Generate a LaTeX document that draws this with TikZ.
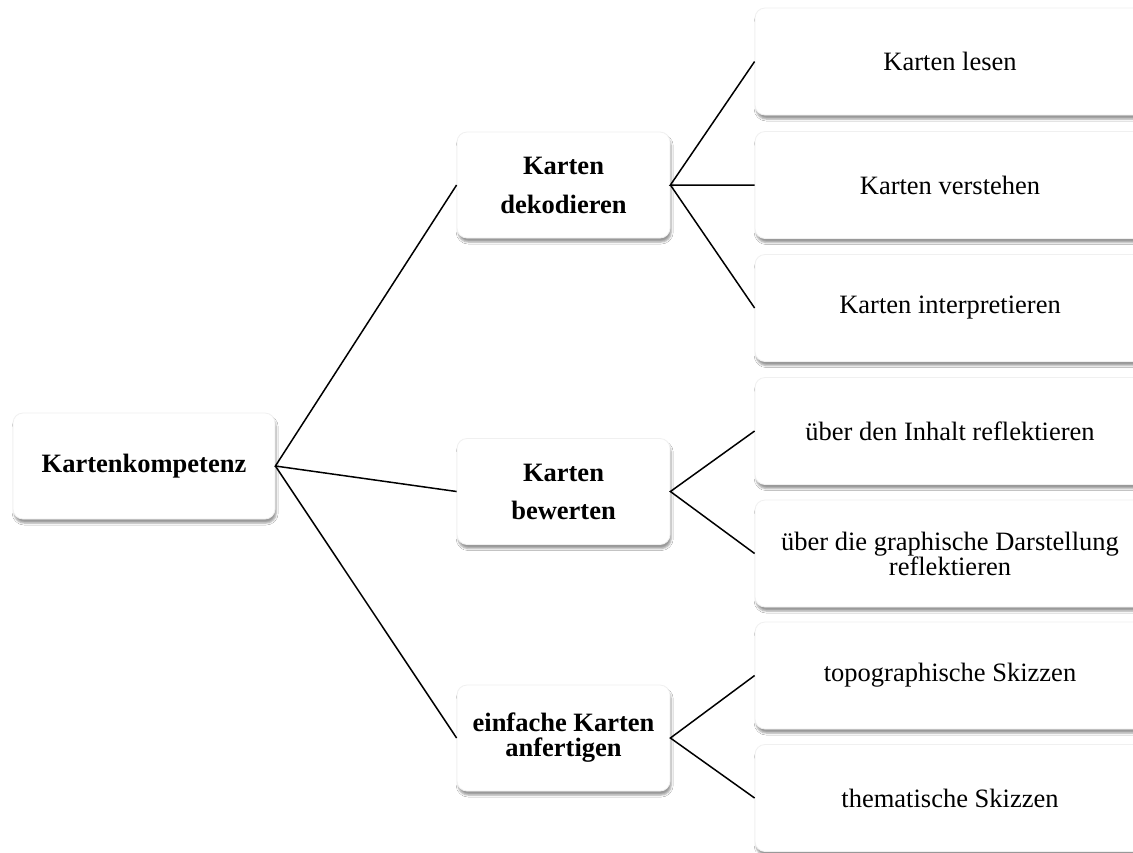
\documentclass[tikz,border=0pt]{standalone}
\usepackage{fontspec}
\setmainfont{Liberation Serif}
\usetikzlibrary{shadows,shadows.blur}

\begin{document}
\begin{tikzpicture}[x=0.5pt,y=-0.5pt]
    \tikzstyle{BoxStyle}=[shape = rectangle, rounded corners = 5pt, fill = white, draw = black!6, line width = 0.4pt,
                          inner sep = 0pt, align = center, font = \fontsize{13.25}{16}\selectfont,
                          blur shadow = {shadow xshift = 0.6pt, shadow yshift = -2pt,
                                         shadow blur radius = 1pt, shadow opacity = 40}]
    \tikzstyle{RootStyle}=[BoxStyle, minimum width = 131pt, minimum height = 53pt, font = \fontsize{13.25}{16}\selectfont\bfseries]
    \tikzstyle{AreaStyle}=[BoxStyle, minimum width = 106.5pt, minimum height = 53pt, font = \fontsize{13.25}{16}\selectfont\bfseries]
    \tikzstyle{SkillStyle}=[BoxStyle, minimum width = 195pt, minimum height = 53.5pt]
    \tikzstyle{EdgeStyle}=[line width = 0.75pt, black]
   \fill[white] (0,0) rectangle (1133,852);
   \useasboundingbox (0,0) rectangle (1133,852);
   \node[RootStyle]  (kompetenz) at (144,466)    {Kartenkompetenz};
   \node[AreaStyle]  (dekodieren) at (563.5,185) {Karten\\[3.5pt]dekodieren};
   \node[AreaStyle]  (bewerten) at (563.5,491.5) {Karten\\[3pt]bewerten};
   \node[AreaStyle]  (anfertigen) at (563.5,738) {einfache Karten\\[-3.5pt]anfertigen};
   \node[SkillStyle] (lesen) at (950,61.5)       {Karten lesen};
   \node[SkillStyle] (verstehen) at (950,185)    {Karten verstehen};
   \node[SkillStyle] (interpret) at (950,308)    {Karten interpretieren};
   \node[SkillStyle] (inhalt) at (950,431)       {über den Inhalt reflektieren};
   \node[SkillStyle] (darstellung) at (950,553.5) {über die graphische Darstellung\\[-3.5pt]reflektieren};
   \node[SkillStyle] (topo) at (950,675.5)       {topographische Skizzen};
   \node[SkillStyle] (thema) at (950,798)        {thematische Skizzen};
   \draw[EdgeStyle] (dekodieren.west) -- (kompetenz.east) -- (bewerten.west);
   \draw[EdgeStyle] (kompetenz.east) -- (anfertigen.west);
   \draw[EdgeStyle] (lesen.west) -- (dekodieren.east) -- (verstehen.west);
   \draw[EdgeStyle] (dekodieren.east) -- (interpret.west);
   \draw[EdgeStyle] (inhalt.west) -- (bewerten.east) -- (darstellung.west);
   \draw[EdgeStyle] (topo.west) -- (anfertigen.east) -- (thema.west);
  \end{tikzpicture}
\end{document}
